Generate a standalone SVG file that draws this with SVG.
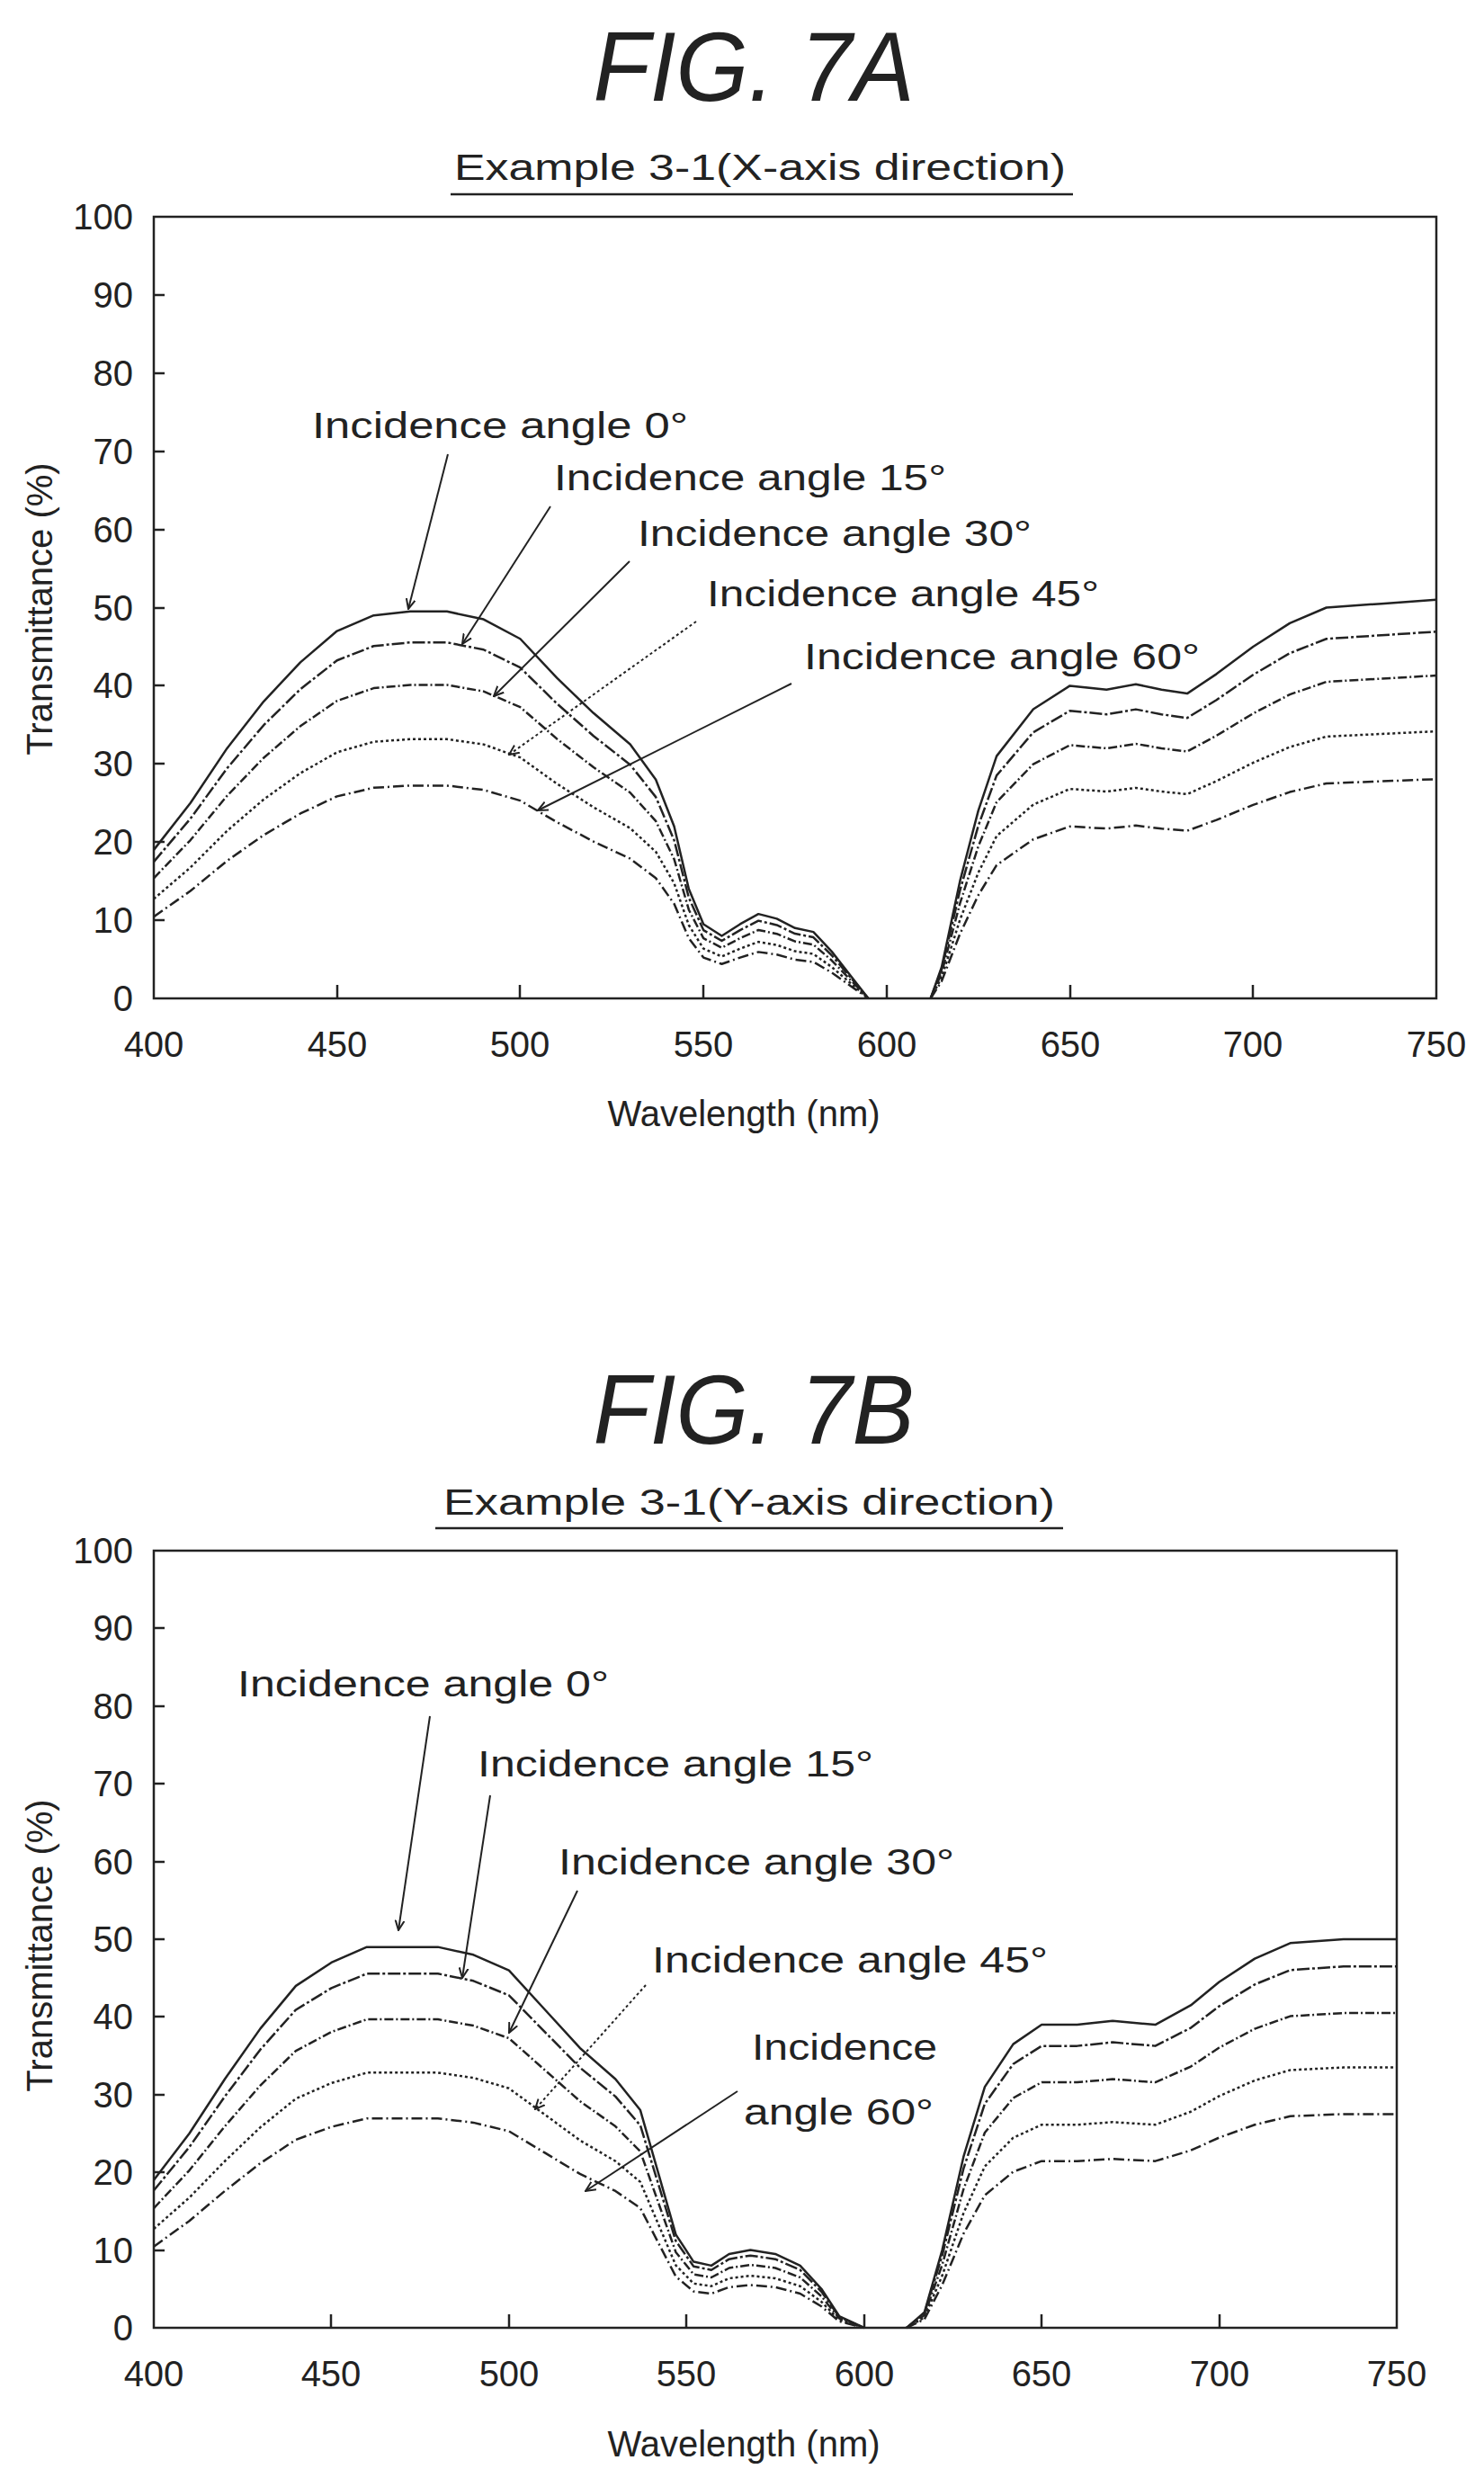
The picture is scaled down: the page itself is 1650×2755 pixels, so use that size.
<svg xmlns="http://www.w3.org/2000/svg" width="1650" height="2755" viewBox="0 0 1650 2755">
<style>
text{font-family:"Liberation Sans","DejaVu Sans",sans-serif;fill:#222}
.title{font-size:110px;font-style:italic}
.sub{font-size:40px}
.tick{font-size:40px}
.lab{font-size:40px}
.ann{font-size:40px}
.frame{fill:none;stroke:#222;stroke-width:2.5}
.tk{stroke:#222;stroke-width:2.5}
.c{fill:none;stroke:#222;stroke-width:2.5;stroke-linejoin:round}
.d1{stroke-dasharray:14 3 3 3}
.d2{stroke-dasharray:10 3 2 3}
.d3{stroke-dasharray:3 3}
.d4{stroke-dasharray:12 4 2 4}
.ar{stroke:#222;stroke-width:2;fill:none;marker-end:url(#ah)}
</style>
<defs>
<marker id="ah" viewBox="0 0 12 12" refX="11" refY="6" markerWidth="12" markerHeight="12" markerUnits="userSpaceOnUse" orient="auto">
<path d="M0,1 L11,6 L0,11" fill="none" stroke="#222" stroke-width="2"/>
</marker>
<path id="cA" vector-effect="non-scaling-stroke" d="M0,-19 L10,-25 L20,-32 L30,-38 L40,-43 L50,-47 L60,-49 L70,-49.5 L80,-49.5 L90,-48.5 L100,-46 L110,-41 L120,-36.5 L130,-32.5 L137,-28 L142,-22 L146,-14 L150,-9.5 L155,-8 L160,-9.5 L165,-10.8 L170,-10.2 L175,-9 L180,-8.5 L185,-6 L190,-3 L195,0 M212,0 L215,-4 L220,-15 L225,-24 L230,-31 L240,-37 L250,-40 L260,-39.5 L268,-40.2 L275,-39.5 L282,-39 L290,-41.5 L300,-45 L310,-48 L320,-50 L335,-50.5 L350,-51"/>
<path id="cB" vector-effect="non-scaling-stroke" d="M0,-19 L10,-25 L20,-32 L30,-38.5 L40,-44 L50,-47 L60,-49 L70,-49 L80,-49 L90,-48 L100,-46 L110,-41 L120,-36 L130,-32 L137,-28 L142,-20 L147,-12 L152,-8.5 L157,-8 L162,-9.5 L168,-10 L175,-9.5 L182,-8 L188,-5 L193,-1.5 L200,0 M212,0 L217,-2 L222,-10 L228,-22 L234,-31 L242,-36.5 L250,-39 L260,-39 L270,-39.5 L282,-39 L292,-41.5 L300,-44.5 L310,-47.5 L320,-49.5 L335,-50 L350,-50"/>
</defs>

<g id="figA">
<text class="title" x="838" y="112" text-anchor="middle" textLength="357" lengthAdjust="spacingAndGlyphs">FIG. 7A</text>
<text class="sub" x="845" y="200" text-anchor="middle" textLength="680" lengthAdjust="spacingAndGlyphs">Example 3-1(X-axis direction)</text>
<line class="tk" x1="501" y1="216" x2="1193" y2="216"/>
<rect class="frame" x="171" y="241" width="1426" height="869"/>
<g class="tk">
<line x1="171" y1="1023" x2="183" y2="1023"/><line x1="171" y1="936" x2="183" y2="936"/><line x1="171" y1="849" x2="183" y2="849"/><line x1="171" y1="762" x2="183" y2="762"/><line x1="171" y1="676" x2="183" y2="676"/><line x1="171" y1="589" x2="183" y2="589"/><line x1="171" y1="502" x2="183" y2="502"/><line x1="171" y1="415" x2="183" y2="415"/><line x1="171" y1="328" x2="183" y2="328"/>
<line x1="375" y1="1110" x2="375" y2="1095"/><line x1="578" y1="1110" x2="578" y2="1095"/><line x1="782" y1="1110" x2="782" y2="1095"/><line x1="986" y1="1110" x2="986" y2="1095"/><line x1="1190" y1="1110" x2="1190" y2="1095"/><line x1="1393" y1="1110" x2="1393" y2="1095"/>
</g>
<g class="tick" text-anchor="end">
<text x="148" y="1124">0</text><text x="148" y="1037">10</text><text x="148" y="950">20</text><text x="148" y="863">30</text><text x="148" y="776">40</text><text x="148" y="690">50</text><text x="148" y="603">60</text><text x="148" y="516">70</text><text x="148" y="429">80</text><text x="148" y="342">90</text><text x="148" y="255">100</text>
</g>
<g class="tick" text-anchor="middle">
<text x="171" y="1175">400</text><text x="375" y="1175">450</text><text x="578" y="1175">500</text><text x="782" y="1175">550</text><text x="986" y="1175">600</text><text x="1190" y="1175">650</text><text x="1393" y="1175">700</text><text x="1597" y="1175">750</text>
</g>
<text class="lab" x="827" y="1252" text-anchor="middle">Wavelength (nm)</text>
<text class="lab" transform="translate(58,677) rotate(-90)" text-anchor="middle">Transmittance (%)</text>
<g transform="translate(171,1110) scale(4.0743,8.69)">
<use href="#cA" class="c"/>
<use href="#cA" class="c d1" transform="scale(1,0.92)"/>
<use href="#cA" class="c d2" transform="scale(1,0.81)"/>
<use href="#cA" class="c d3" transform="scale(1,0.67)"/>
<use href="#cA" class="c d4" transform="scale(1,0.55)"/>
</g>
<g class="ann">
<text x="347" y="487" textLength="418" lengthAdjust="spacingAndGlyphs">Incidence angle 0°</text>
<text x="616" y="545" textLength="436" lengthAdjust="spacingAndGlyphs">Incidence angle 15°</text>
<text x="709" y="607" textLength="438" lengthAdjust="spacingAndGlyphs">Incidence angle 30°</text>
<text x="786" y="674" textLength="436" lengthAdjust="spacingAndGlyphs">Incidence angle 45°</text>
<text x="894" y="744" textLength="440" lengthAdjust="spacingAndGlyphs">Incidence angle 60°</text>
</g>
</g>

<g id="figB">
<text class="title" x="838" y="1605" text-anchor="middle" textLength="357" lengthAdjust="spacingAndGlyphs">FIG. 7B</text>
<text class="sub" x="833" y="1684" text-anchor="middle" textLength="680" lengthAdjust="spacingAndGlyphs">Example 3-1(Y-axis direction)</text>
<line class="tk" x1="484" y1="1699" x2="1182" y2="1699"/>
<rect class="frame" x="171" y="1724" width="1382" height="864"/>
<g class="tk">
<line x1="171" y1="2502" x2="183" y2="2502"/><line x1="171" y1="2415" x2="183" y2="2415"/><line x1="171" y1="2329" x2="183" y2="2329"/><line x1="171" y1="2242" x2="183" y2="2242"/><line x1="171" y1="2156" x2="183" y2="2156"/><line x1="171" y1="2070" x2="183" y2="2070"/><line x1="171" y1="1983" x2="183" y2="1983"/><line x1="171" y1="1897" x2="183" y2="1897"/><line x1="171" y1="1810" x2="183" y2="1810"/>
<line x1="368" y1="2588" x2="368" y2="2573"/><line x1="566" y1="2588" x2="566" y2="2573"/><line x1="763" y1="2588" x2="763" y2="2573"/><line x1="961" y1="2588" x2="961" y2="2573"/><line x1="1158" y1="2588" x2="1158" y2="2573"/><line x1="1356" y1="2588" x2="1356" y2="2573"/>
</g>
<g class="tick" text-anchor="end">
<text x="148" y="2602">0</text><text x="148" y="2516">10</text><text x="148" y="2429">20</text><text x="148" y="2343">30</text><text x="148" y="2256">40</text><text x="148" y="2170">50</text><text x="148" y="2084">60</text><text x="148" y="1997">70</text><text x="148" y="1911">80</text><text x="148" y="1824">90</text><text x="148" y="1738">100</text>
</g>
<g class="tick" text-anchor="middle">
<text x="171" y="2653">400</text><text x="368" y="2653">450</text><text x="566" y="2653">500</text><text x="763" y="2653">550</text><text x="961" y="2653">600</text><text x="1158" y="2653">650</text><text x="1356" y="2653">700</text><text x="1553" y="2653">750</text>
</g>
<text class="lab" x="827" y="2731" text-anchor="middle">Wavelength (nm)</text>
<text class="lab" transform="translate(58,2163) rotate(-90)" text-anchor="middle">Transmittance (%)</text>
<g transform="translate(171,2588) scale(3.9486,8.64)">
<use href="#cB" class="c"/>
<use href="#cB" class="c d1" transform="scale(1,0.93)"/>
<use href="#cB" class="c d2" transform="scale(1,0.81)"/>
<use href="#cB" class="c d3" transform="scale(1,0.67)"/>
<use href="#cB" class="c d4" transform="scale(1,0.55)"/>
</g>
<g class="ann">
<text x="264" y="1886" textLength="413" lengthAdjust="spacingAndGlyphs">Incidence angle 0°</text>
<text x="531" y="1975" textLength="440" lengthAdjust="spacingAndGlyphs">Incidence angle 15°</text>
<text x="621" y="2084" textLength="440" lengthAdjust="spacingAndGlyphs">Incidence angle 30°</text>
<text x="725" y="2193" textLength="440" lengthAdjust="spacingAndGlyphs">Incidence angle 45°</text>
<text x="836" y="2290" textLength="206" lengthAdjust="spacingAndGlyphs">Incidence</text>
<text x="827" y="2362" textLength="211" lengthAdjust="spacingAndGlyphs">angle 60°</text>
</g>
</g>

<g id="connectors">
<line class="ar" x1="498" y1="505" x2="454" y2="677"/>
<line class="ar" x1="612" y1="563" x2="514" y2="716"/>
<line class="ar" x1="700" y1="624" x2="549" y2="774"/>
<line class="ar" x1="774" y1="691" x2="566" y2="839" stroke-dasharray="3 3"/>
<line class="ar" x1="880" y1="760" x2="598" y2="901"/>
<line class="ar" x1="478" y1="1908" x2="443" y2="2146"/>
<line class="ar" x1="545" y1="1996" x2="514" y2="2199"/>
<line class="ar" x1="642" y1="2102" x2="566" y2="2260"/>
<line class="ar" x1="718" y1="2207" x2="595" y2="2345" stroke-dasharray="3 3"/>
<line class="ar" x1="820" y1="2325" x2="651" y2="2436"/>
</g>
</svg>
